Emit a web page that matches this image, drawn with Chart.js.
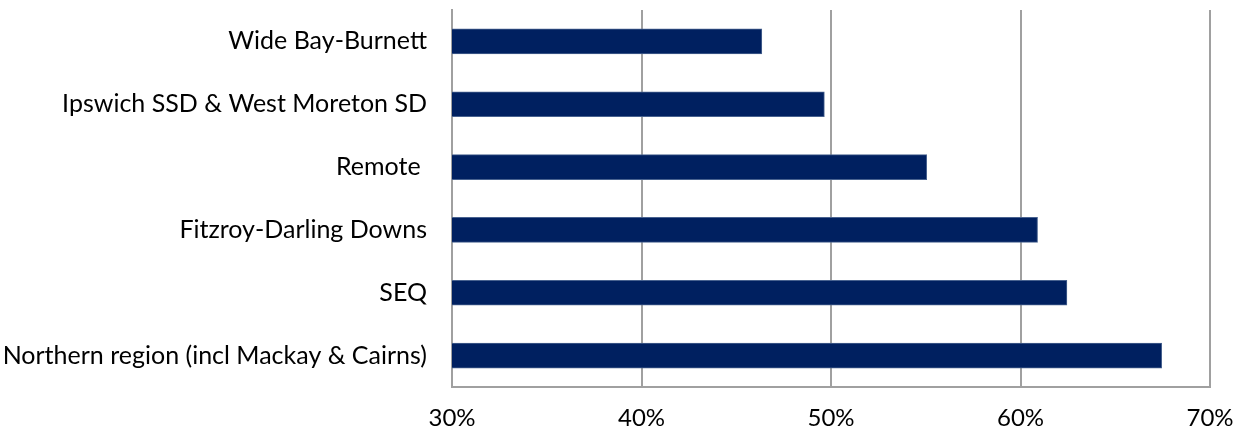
<!DOCTYPE html>
<html>
<head>
<meta charset="utf-8">
<script src="https://cdn.jsdelivr.net/npm/chart.js@4/dist/chart.umd.min.js"></script>
<style>
  html, body { margin: 0; padding: 0; background: #ffffff; }
  #wrap { width: 1244px; height: 433px; position: relative; }
</style>
</head>
<body>
<div id="wrap"><canvas id="c" width="1244" height="433"></canvas></div>
<script>
const categories = [
  "Wide Bay-Burnett",
  "Ipswich SSD & West Moreton SD",
  "Remote ",
  "Fitzroy-Darling Downs",
  "SEQ",
  "Northern region (incl Mackay & Cairns)"
];
const values = [46.35, 49.65, 55.05, 60.9, 62.45, 67.45];
const xTicks = [30, 40, 50, 60, 70];

const FONT = "Lato";
new Chart(document.getElementById('c'), {
  type: 'bar',
  data: {
    labels: categories,
    datasets: [{
      data: values,
      backgroundColor: '#002060',
      borderColor: '#48628f',
      borderWidth: 1,
      borderSkipped: false,
      barThickness: 25
    }]
  },
  options: {
    indexAxis: 'y',
    responsive: false,
    animation: false,
    devicePixelRatio: 1,
    layout: { padding: { top: 10, right: 34, left: 0, bottom: 0 } },
    plugins: { legend: { display: false }, tooltip: { enabled: false } },
    scales: {
      x: {
        min: xTicks[0],
        max: xTicks[xTicks.length - 1],
        afterBuildTicks: (axis) => { axis.ticks = xTicks.map(v => ({ value: v })); },
        afterFit: (axis) => {
          axis.height = 46;
          axis.paddingLeft = 0; axis.paddingRight = 0;
          axis.paddingTop = 0; axis.paddingBottom = 0;
        },
        ticks: {
          callback: (v) => v + '%',
          color: '#000000',
          font: { family: FONT, size: 24 },
          padding: 17,
          maxRotation: 0
        },
        grid: { color: '#a0a0a0', lineWidth: 2, drawTicks: false },
        border: { display: true, color: '#a0a0a0', width: 2 }
      },
      y: {
        afterFit: (axis) => {
          axis.width = 452;
          axis.paddingLeft = 0; axis.paddingRight = 0;
          axis.paddingTop = 0; axis.paddingBottom = 0;
        },
        ticks: {
          color: '#000000',
          font: { family: FONT, size: 25 },
          padding: 25
        },
        grid: { display: false, drawTicks: false },
        border: { display: true, color: '#a0a0a0', width: 2 }
      }
    }
  }
});
</script>
</body>
</html>
